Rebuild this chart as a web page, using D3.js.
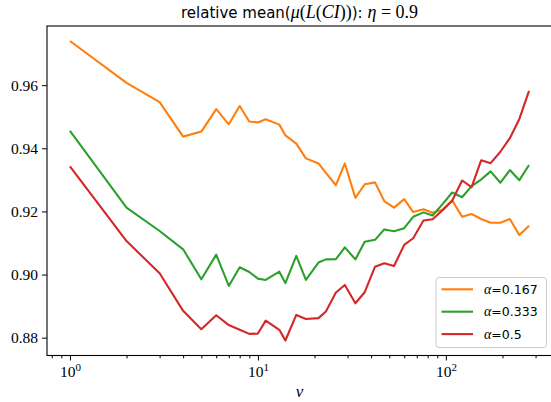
<!DOCTYPE html>
<html>
<head>
<meta charset="utf-8">
<script src="https://cdn.jsdelivr.net/npm/d3@7"></script>
<style>
  body { margin: 0; background: #fff; }
</style>
</head>
<body>
<div id="chart"></div>
<script>
// nu values (x) and relative mean for each alpha
const nu = [1, 2, 3, 4, 5, 6, 7, 8, 9, 10, 11, 13, 14, 16, 18, 21, 23, 26, 29, 33, 37, 42, 47, 53, 60, 67, 76, 85, 96, 108, 122, 137, 154, 173, 195, 219, 246, 277];

const alpha167 = [0.9740, 0.9607, 0.9546, 0.9437, 0.9453, 0.9524, 0.9476, 0.9534, 0.9485, 0.9482,
  0.9492, 0.9475, 0.9441, 0.9415, 0.9368, 0.9352, 0.9322, 0.9283, 0.9352, 0.9243,
  0.9286, 0.9292, 0.9233, 0.9212, 0.9239, 0.9198, 0.9207, 0.9196, 0.9205, 0.9235,
  0.9183, 0.9192, 0.9176, 0.9164, 0.9164, 0.9176, 0.9125, 0.9155];

const alpha333 = [0.9455, 0.9212, 0.9138, 0.9080, 0.8985, 0.9063, 0.8964, 0.9023, 0.9008, 0.8987,
  0.8983, 0.9009, 0.8973, 0.9059, 0.8983, 0.9038, 0.9048, 0.9049, 0.9086, 0.9048,
  0.9104, 0.9110, 0.9143, 0.9137, 0.9147, 0.9183, 0.9197, 0.9187, 0.9223, 0.9260,
  0.9245, 0.9280, 0.9301, 0.9327, 0.9291, 0.9331, 0.9299, 0.9347];

const alpha5 = [0.9343, 0.9106, 0.9004, 0.8885, 0.8827, 0.8871, 0.8840, 0.8825, 0.8812, 0.8813,
  0.8854, 0.8825, 0.8791, 0.8872, 0.8859, 0.8862, 0.8883, 0.8943, 0.8967, 0.8909,
  0.8944, 0.9025, 0.9036, 0.9027, 0.9094, 0.9115, 0.9171, 0.9175, 0.9204, 0.9234,
  0.9298, 0.9277, 0.9362, 0.9353, 0.9389, 0.9432, 0.9493, 0.9582];

const alphaLabels = ["0.167", "0.333", "0.5"];
const colors = ["#ff7f0e", "#2ca02c", "#d62728"];
const yTicks = [0.88, 0.90, 0.92, 0.94, 0.96];
const xMajorTicks = [1, 10, 100];
const xMinorTicks = [0.8, 0.9, 2, 3, 4, 5, 6, 7, 8, 9, 20, 30, 40, 50, 60, 70, 80, 90, 200, 300];

const width = 551, height = 402;
const plot = { left: 47, right: 552, top: 26, bottom: 355.5 };

const series = [alpha167, alpha333, alpha5].map((vals, i) => ({
  label: alphaLabels[i],
  color: colors[i],
  points: nu.map((n, j) => ({ x: n, y: vals[j] }))
}));

// matplotlib style 5% margins (x in log space)
const lx0 = Math.log10(d3.min(nu)), lx1 = Math.log10(d3.max(nu));
const xPad = (lx1 - lx0) * 0.05;
const allY = [].concat(alpha167, alpha333, alpha5);
const y0 = d3.min(allY), y1 = d3.max(allY);
const yPad = (y1 - y0) * 0.05;

const x = d3.scaleLog()
  .domain([Math.pow(10, lx0 - xPad), Math.pow(10, lx1 + xPad)])
  .range([plot.left, plot.right]);

const y = d3.scaleLinear()
  .domain([y0 - yPad, y1 + yPad])
  .range([plot.bottom, plot.top]);

const svg = d3.select("#chart").append("svg")
  .attr("width", width)
  .attr("height", height)
  .style("display", "block");

svg.append("defs").append("clipPath")
  .attr("id", "clip")
  .append("rect")
  .attr("x", plot.left)
  .attr("y", plot.top)
  .attr("width", plot.right - plot.left)
  .attr("height", plot.bottom - plot.top);

// lines
const line = d3.line()
  .x(d => x(d.x))
  .y(d => y(d.y));

svg.append("g")
  .attr("clip-path", "url(#clip)")
  .selectAll(".series")
  .data(series)
  .enter().append("path")
  .attr("class", "series")
  .attr("fill", "none")
  .attr("stroke", d => d.color)
  .attr("stroke-width", 2.1)
  .attr("stroke-linejoin", "round")
  .attr("d", d => line(d.points));

// axes
const serif = "'Liberation Serif', 'Times New Roman', serif";
const sans = "'DejaVu Sans', sans-serif";

const yAxis = svg.append("g")
  .attr("transform", `translate(${plot.left},0)`)
  .call(d3.axisLeft(y).tickValues(yTicks).tickSize(5).tickPadding(4).tickFormat(d3.format(".2f")));

const xAxis = svg.append("g")
  .attr("transform", `translate(0,${plot.bottom})`)
  .call(d3.axisBottom(x).tickValues(xMajorTicks).tickSize(5).tickPadding(5).tickFormat(""));

svg.append("g")
  .attr("transform", `translate(0,${plot.bottom})`)
  .call(d3.axisBottom(x).tickValues(xMinorTicks).tickSize(2.8).tickFormat(""))
  .select(".domain").remove();

[xAxis, yAxis].forEach(g => g.select(".domain").remove());
svg.selectAll(".tick line").attr("stroke", "#000").attr("stroke-width", 1);

yAxis.selectAll(".tick text")
  .attr("font-family", serif)
  .attr("font-size", 15.5)
  .attr("fill", "#000");

xAxis.selectAll(".tick").each(function (d) {
  const t = d3.select(this).append("text")
    .attr("y", 21.5)
    .attr("text-anchor", "middle")
    .attr("font-family", serif)
    .attr("font-size", 15.5)
    .attr("fill", "#000");
  t.append("tspan").text("10");
  t.append("tspan")
    .attr("font-size", 11)
    .attr("dy", -6)
    .text(Math.round(Math.log10(d)));
});

// frame
svg.append("rect")
  .attr("x", plot.left)
  .attr("y", plot.top)
  .attr("width", plot.right - plot.left)
  .attr("height", plot.bottom - plot.top)
  .attr("fill", "none")
  .attr("stroke", "#000")
  .attr("stroke-width", 1.1);

// title
const title = svg.append("text")
  .attr("x", (plot.left + plot.right) / 2)
  .attr("y", 18)
  .attr("text-anchor", "middle")
  .attr("font-size", 15)
  .attr("fill", "#000");
const titleParts = [
  ["relative mean(", sans, "normal"],
  ["μ", serif, "italic"], ["(", serif, "normal"], ["L", serif, "italic"], ["(", serif, "normal"],
  ["CI", serif, "italic"], ["))", serif, "normal"],
  ["): ", sans, "normal"],
  ["η", serif, "italic"], [" = ", serif, "normal"], ["0.9", serif, "normal"]
];
titleParts.forEach(p => {
  title.append("tspan")
    .attr("font-family", p[1])
    .attr("font-style", p[2])
    .attr("font-size", p[1] === serif ? 18 : 15)
    .attr("xml:space", "preserve")
    .text(p[0]);
});

// x label
svg.append("text")
  .attr("x", (plot.left + plot.right) / 2)
  .attr("y", 397)
  .attr("text-anchor", "middle")
  .attr("font-family", serif)
  .attr("font-style", "italic")
  .attr("font-size", 17)
  .text("ν");

// legend
const legend = svg.append("g")
  .attr("transform", "translate(436,277.5)");

legend.append("rect")
  .attr("width", 110.5)
  .attr("height", 70)
  .attr("rx", 3)
  .attr("fill", "#fff")
  .attr("fill-opacity", 0.8)
  .attr("stroke", "#cccccc")
  .attr("stroke-width", 1);

const items = legend.selectAll(".item")
  .data(series)
  .enter().append("g")
  .attr("class", "item")
  .attr("transform", (d, i) => `translate(0,${11.8 + i * 22.4})`);

items.append("line")
  .attr("x1", 5.5)
  .attr("x2", 37)
  .attr("stroke", d => d.color)
  .attr("stroke-width", 2.1);

const itemText = items.append("text")
  .attr("x", 48)
  .attr("y", 4.6)
  .attr("font-size", 12.5)
  .attr("fill", "#000");
itemText.append("tspan")
  .attr("font-family", serif)
  .attr("font-style", "italic")
  .attr("font-size", 14)
  .text("α");
itemText.append("tspan")
  .attr("font-family", sans)
  .text(d => "=" + d.label);
</script>
</body>
</html>
